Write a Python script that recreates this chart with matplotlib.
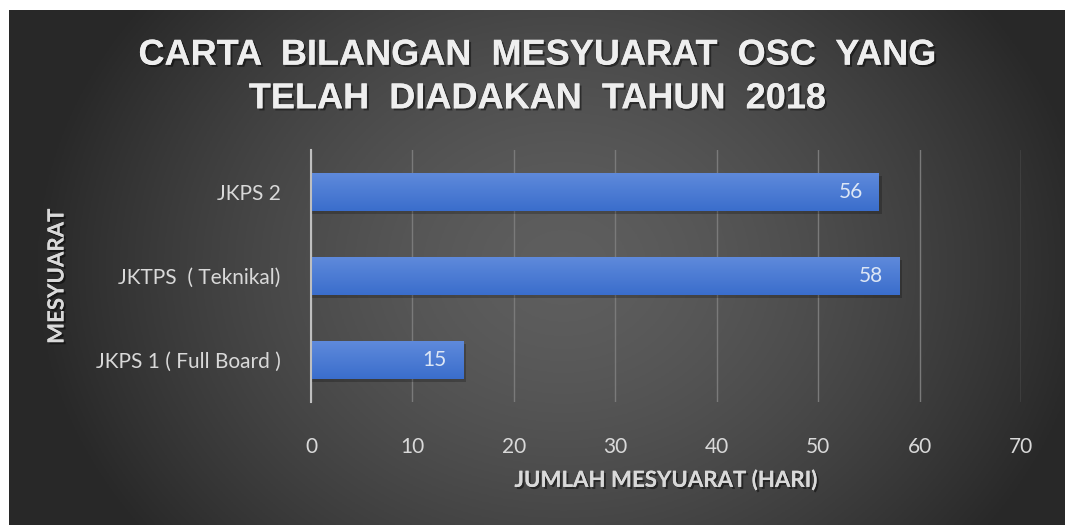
import matplotlib
matplotlib.use("Agg")
import matplotlib.pyplot as plt
import matplotlib.patheffects as pe
import numpy as np

# ── data ─────────────────────────────────────────────────────────────────────
categories = ["JKPS 1 ( Full Board )", "JKTPS  ( Teknikal)", "JKPS 2"]
values     = [15, 58, 56]
x_ticks    = [0, 10, 20, 30, 40, 50, 60, 70]

TITLE  = "CARTA  BILANGAN  MESYUARAT  OSC  YANG\nTELAH  DIADAKAN  TAHUN  2018"
XLABEL = "JUMLAH MESYUARAT (HARI)"
YLABEL = "MESYUARAT"

TXT   = "#d9d9d9"
GRID  = "#7a7a7a"
SANS  = ["Lato", "DejaVu Sans"]
TFONT = ["Liberation Sans", "DejaVu Sans"]

W, H = 1065, 525
fig = plt.figure(figsize=(W / 100, H / 100), dpi=100, facecolor="white")

# ── radial dark background ───────────────────────────────────────────────────
bg = fig.add_axes([9 / W, 0, 1 - 9 / W, 1 - 10 / H])
bg.set_axis_off()
gx, gy = np.meshgrid(np.linspace(-1, 1, 400), np.linspace(-1, 1, 200))
r = np.sqrt(((gx - 0.05) / 1.0) ** 2 + (gy / 1.7) ** 2)
shade = 0.37 - 0.21 * np.clip(r, 0, 1) ** 1.5
bg.imshow(np.dstack([shade] * 3), aspect="auto", extent=[0, 1, 0, 1])
bg.set_xlim(0, 1)
bg.set_ylim(0, 1)

# ── plot area ────────────────────────────────────────────────────────────────
ax = fig.add_axes([311 / W, 1 - 402 / H, 710 / W, 252 / H])
ax.patch.set_alpha(0)
ypos = np.arange(len(categories))
bars = ax.barh(ypos, values, height=0.45, color="#4577d4", zorder=3)

# vertical gradient (light on top) + soft shadow on each bar
grad = np.linspace(0, 1, 64).reshape(-1, 1)
top_c = np.array([0.37, 0.54, 0.86])
bot_c = np.array([0.23, 0.43, 0.80])
img = top_c * (1 - grad[..., None]) + bot_c * grad[..., None]
for b in bars:
    x0, y0, w, h = b.get_x(), b.get_y(), b.get_width(), b.get_height()
    ax.barh(y0 + h / 2 - 0.035, w + 0.25, height=h, color="black",
            alpha=0.22, zorder=2)
    im = ax.imshow(img, extent=[x0, x0 + w, y0, y0 + h], aspect="auto",
                   zorder=4, origin="upper")
    im.set_clip_path(b)
    ax.text(x0 + w - 1.6, y0 + h / 2, f"{w:g}", ha="right", va="center",
            color="#dce6f5", fontsize=15, family=SANS, zorder=5)

ax.set_xlim(0, 70)
ax.set_ylim(-0.5, len(categories) - 0.5)
ax.set_xticks(x_ticks)
ax.set_yticks(ypos)
ax.set_yticklabels(categories)
ax.xaxis.grid(True, color=GRID, linewidth=1, zorder=0)
ax.set_axisbelow(True)
for s in ["top", "right", "bottom"]:
    ax.spines[s].set_visible(False)
ax.spines["left"].set_color("#bfbfbf")
ax.spines["left"].set_linewidth(1.5)
ax.spines["left"].set_zorder(6)
ax.tick_params(length=0, colors=TXT, labelsize=15)
ax.tick_params(axis="x", pad=25)
ax.tick_params(axis="y", pad=22)
for lab in ax.get_xticklabels() + ax.get_yticklabels():
    lab.set_family(SANS)
    lab.set_color(TXT)

# ── texts ────────────────────────────────────────────────────────────────────
shadow = [pe.withSimplePatchShadow(offset=(1.5, -1.5), shadow_rgbFace="black",
                                   alpha=0.45), pe.Normal()]
fig.text(537 / W, 1 - 77 / H, TITLE, ha="center", va="center",
         color="#eeeeee", fontsize=26, fontweight="bold", family=TFONT,
         linespacing=1.32, path_effects=shadow)
fig.text(666 / W, 1 - 480 / H, XLABEL, ha="center", va="center",
         color=TXT, fontsize=16, fontweight="bold", family=SANS,
         path_effects=shadow)
fig.text(57 / W, 1 - 276 / H, YLABEL, ha="center", va="center",
         rotation=90, color=TXT, fontsize=16, fontweight="bold",
         family=SANS, path_effects=shadow)

fig.savefig("out.png", dpi=100, facecolor="white")
